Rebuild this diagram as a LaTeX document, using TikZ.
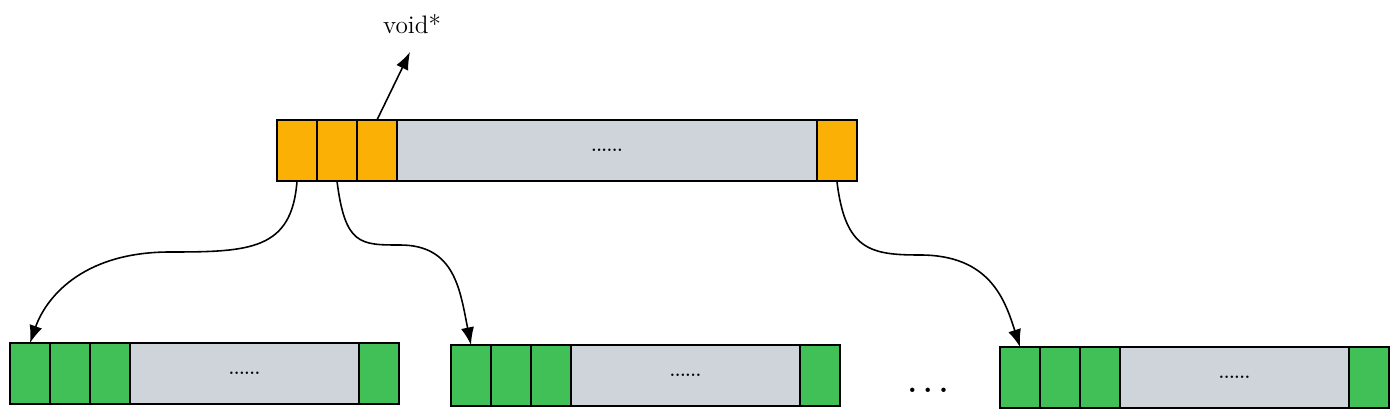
\documentclass[tikz,border=0pt]{standalone}
\usetikzlibrary{positioning, arrows.meta}
\definecolor{cellorange}{HTML}{FAB005}
\definecolor{cellgreen}{HTML}{40C057}
\definecolor{cellgray}{HTML}{CED4DA}

\begin{document}
\begin{tikzpicture}[x=0.02cm, y=-0.02cm,
  box/.style={draw, line width=1pt, inner sep=0pt, outer sep=0pt, minimum height=1.22cm},
  ocell/.style={box, fill=cellorange, minimum width=0.8cm},
  gcell/.style={box, fill=cellgreen, minimum width=0.8cm},
  midcell/.style={box, fill=cellgray, font=\small\bfseries},
  arr/.style={-{Latex[length=10pt,width=7.5pt]}, line width=0.9pt}]
\useasboundingbox (0,0) rectangle (1399,418);
\node[ocell, anchor=north west] (t1) at (277,120) {};
\node[ocell, right=0pt of t1] (t2) {};
\node[ocell, right=0pt of t2] (t3) {};
\node[midcell, minimum width=8.4cm, right=0pt of t3] (t4) {......};
\node[ocell, right=0pt of t4] (t5) {};
\foreach \n/\x/\y in {a/10/343, b/451/345, c/1000/347} {
  \node[gcell, anchor=north west] (\n1) at (\x,\y) {};
  \node[gcell, right=0pt of \n1] (\n2) {};
  \node[gcell, right=0pt of \n2] (\n3) {};
  \node[midcell, minimum width=4.58cm, right=0pt of \n3] (\n4) {......};
  \node[gcell, right=0pt of \n4] (\n5) {};
}
\node[font=\LARGE\bfseries] (etc) at (928,390) {.\kern.2em.\kern.2em.};
\node[font=\Large] (vp) at (412,24) {void*};
\coordinate (vt) at (410,52);
\draw[arr] (t3.north) -- (vt);
\draw[arr] (t1.south) .. controls (292,250) and (250,252) .. (170,252)
  .. controls (80,252) and (45,300) .. (a1.north);
\draw[arr] (t2.south) .. controls (345,245) and (360,245) .. (400,245)
  .. controls (455,245) and (460,290) .. (b1.north);
\draw[arr] (t5.south) .. controls (845,250) and (870,255) .. (920,255)
  .. controls (990,255) and (1005,300) .. (c1.north);
\end{tikzpicture}
\end{document}
